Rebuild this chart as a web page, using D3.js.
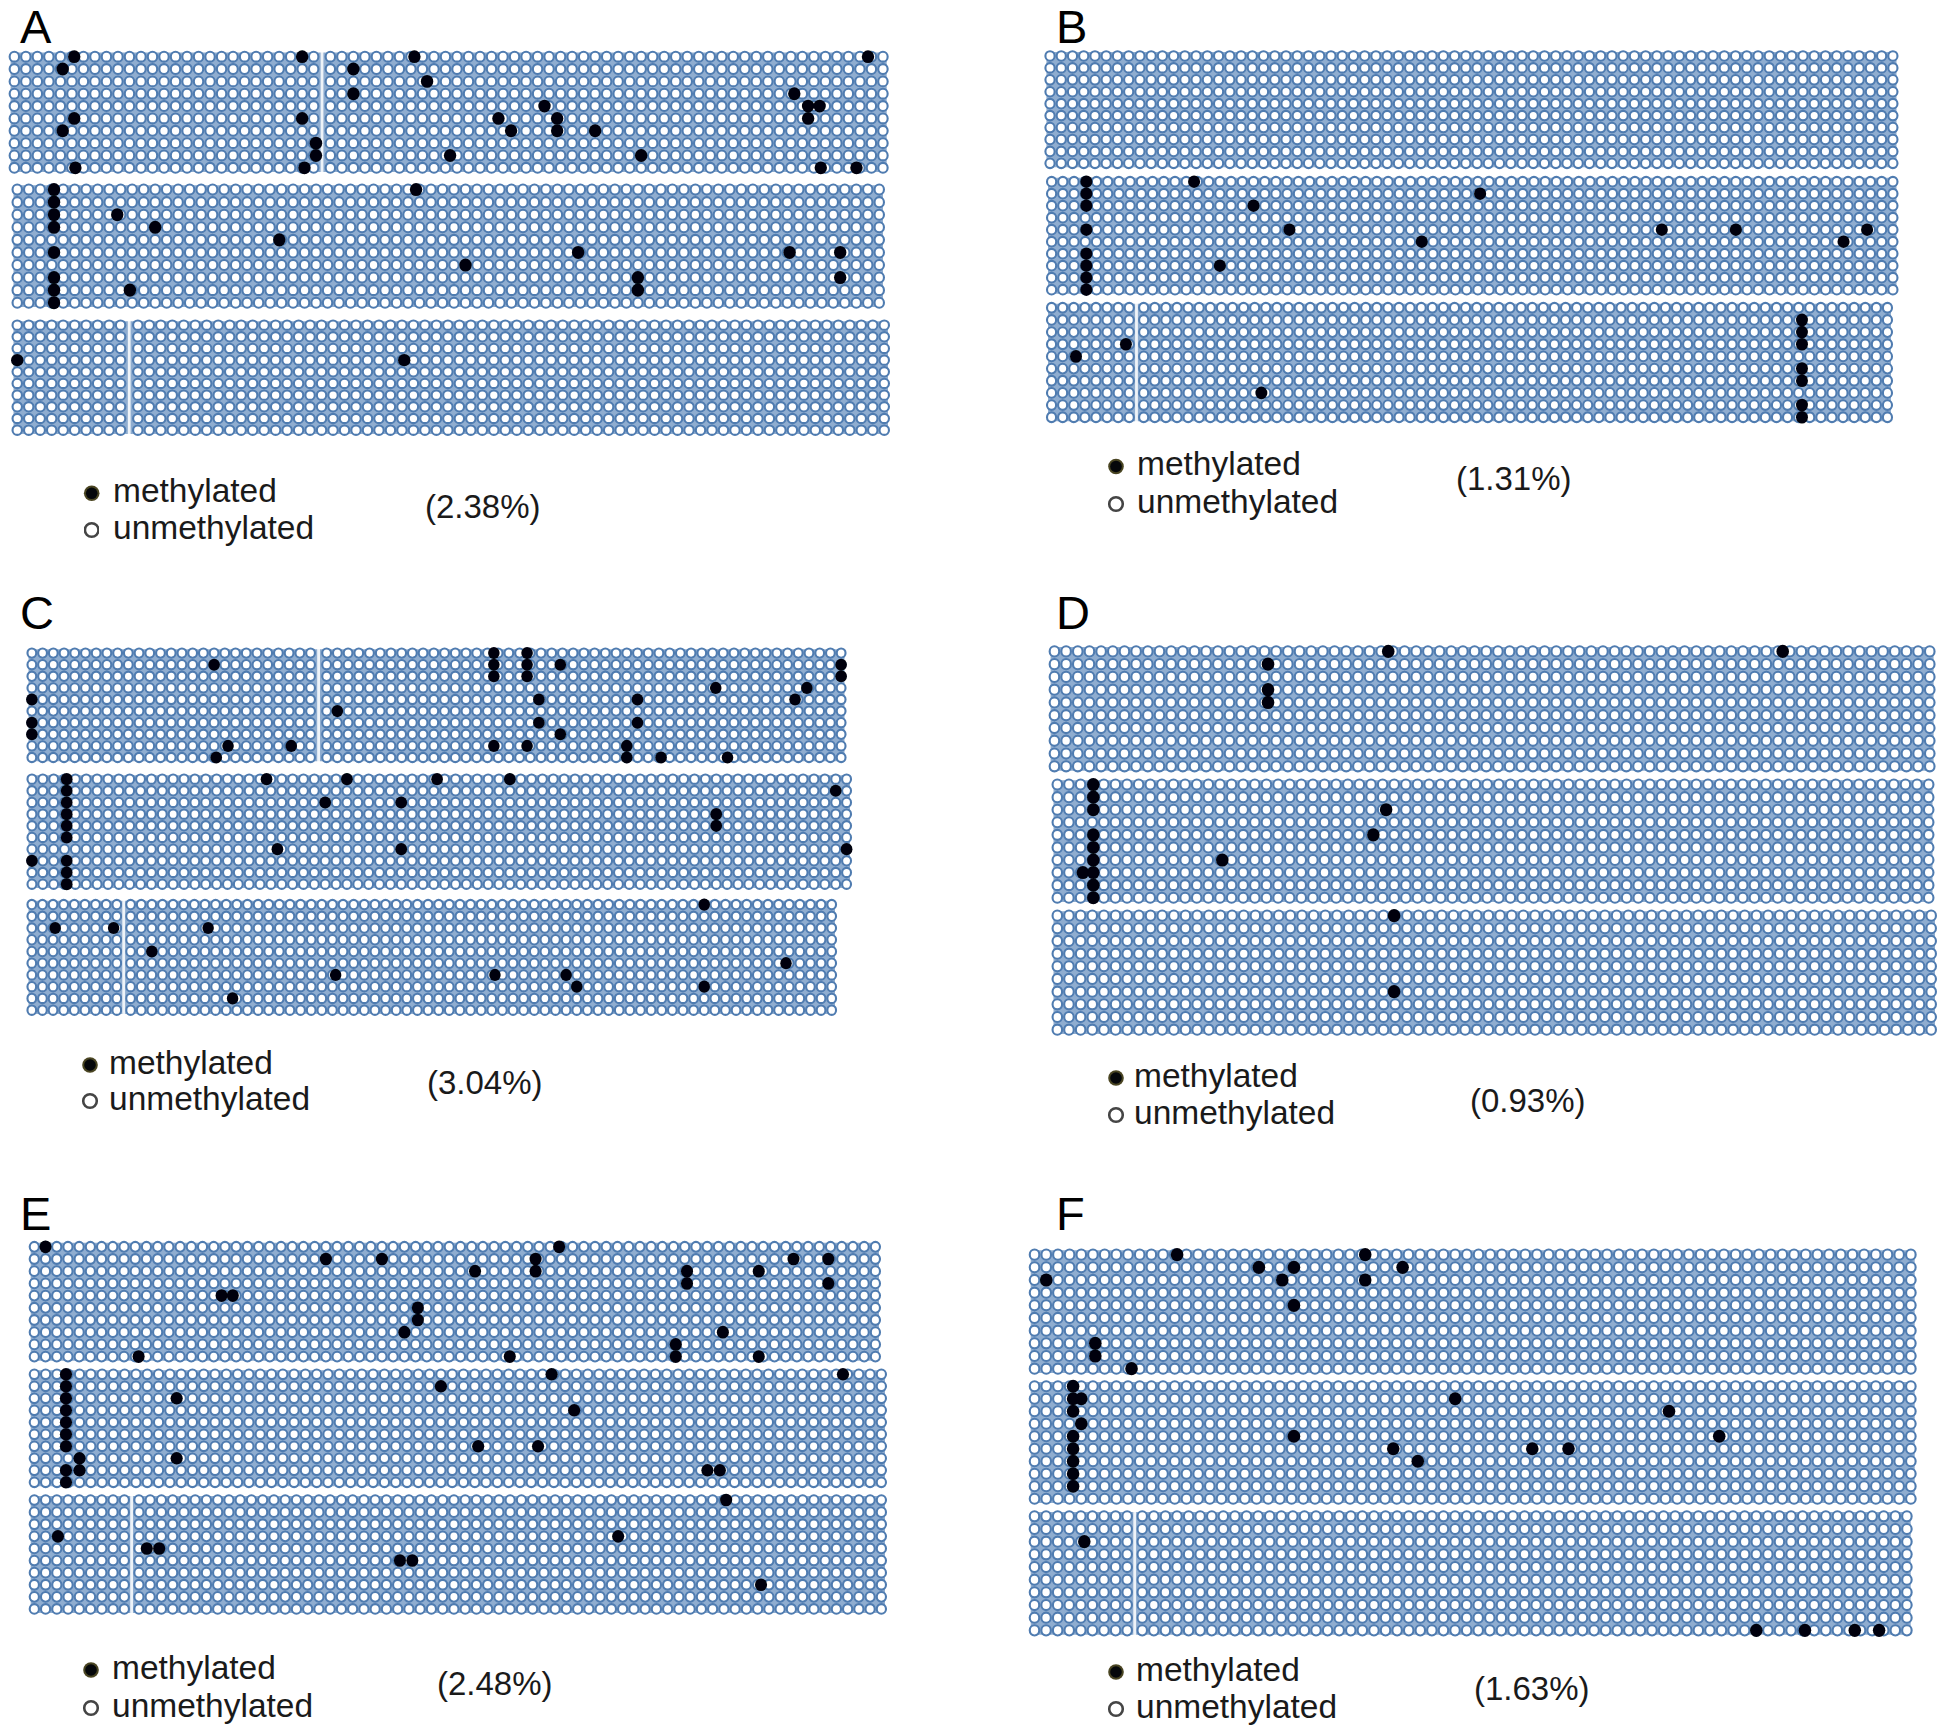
<!DOCTYPE html>
<html><head><meta charset="utf-8">
<script src="https://cdn.jsdelivr.net/npm/d3@7/dist/d3.min.js"></script>
<style>html,body{margin:0;padding:0;background:#fff}svg{display:block}text{font-family:"Liberation Sans",Arial,sans-serif;fill:#1a1a1a}</style>
</head><body><div id="chart"></div>
<script>
// Methylated sites, each array: one list of column positions per clone (row 0..9)
const panelA1=[[5.2,25,34.3,73.7],[4.2,29],[35.4],[29,67.3],[45.6,68.5,69.5],[5.2,25,41.6,46.7,68.5],[4.2,42.7,46.7,50],[26.2],[26.2,37.4,54],[5.3,25.2,69.6,72.7]];
const panelA2=[[3.2,34.7],[3.2],[3.2,8.7],[3.2,12],[22.8],[3.2,48.8,67.2,71.6],[39],[3.2,54,71.6],[3.2,9.8,54],[3.2]];
const panelA3=[[],[],[],[0,33.2],[],[],[],[],[],[]];
const panelB1=[[],[],[],[],[],[],[],[],[],[]];
const panelB2=[[3.1,12.7],[3.1,38.2],[3.1,18],[],[3.1,21.2,54.4,61,72.7],[33,70.6],[3.1],[3.1,15],[3.1],[3.1]];
const panelB3=[[],[67.3],[67.3],[6.7,67.3],[2.2],[67.3],[67.3],[18.6],[67.3],[67.3]];
const panelC1=[[42.6,45.7],[17,42.6,45.7,48.8,75],[42.6,45.7,75],[63.3,71.8],[0,46.8,56,70.7],[28],[0,46.8,56],[0,48.8],[18.3,24.2,42.6,45.7,55],[17.2,55,58.2,64.4]];
const panelC2=[[3.2,21.6,29,37.3,44],[3.2,74],[3.2,27,34],[3.2,63],[3.2,63],[3.2],[22.6,34,75],[0,3.2],[3.2],[3.2]];
const panelC3=[[63],[],[2.2,7.7,16.3],[],[11],[70.7],[28.3,43.3,50],[51,63],[18.6],[]];
const panelD1=[[28.6,62.4],[18.3],[],[18.3],[18.3],[],[],[],[],[]];
const panelD2=[[3.1],[3.1],[3.1,28.3],[],[3.1,27.2],[3.1],[3.1,14.2],[2.2,3.1],[3.1],[3.1]];
const panelD3=[[28.9],[],[],[],[],[],[28.9],[],[],[]];
const panelE1=[[1,46.8],[26,31,44.7,67.7,70.8],[39.3,44.7,58.2,64.6],[58.2,70.8],[16.7,17.7],[34.2],[34.2],[33,61.4],[57.2],[9.3,42.4,57.2,64.6]];
const panelE2=[[2.8,45.8,71.6],[2.8,36],[2.8,12.6],[2.8,47.8],[2.8],[2.8],[2.8,39.3,44.6],[4,12.6],[2.8,4,59.6,60.7],[2.8]];
const panelE3=[[61.2],[],[],[2.1,51.6],[9.7,10.8],[32.2,33.3],[],[64.3],[],[]];
const panelF1=[[12.2,28.3],[19.2,22.2,31.5],[1,21.2,28.3],[],[22.2],[],[],[5.2],[5.2],[8.3]];
const panelF2=[[3.3],[3.3,4,36],[3.3,54.3],[4],[3.3,22.2,58.6],[3.3,30.7,42.6,45.7],[3.3,32.8],[3.3],[3.3],[]];
const panelF3=[[],[],[4.3],[],[],[],[],[],[],[62,66.2,70.5,72.6]];

const panelLetters=["A","B","C","D","E","F"];
const percentLabels=["(2.38%)","(1.31%)","(3.04%)","(0.93%)","(2.48%)","(1.63%)"];
const legendNames=["methylated","unmethylated"];
const columnCount=76;
const rowCount=10;

// Layout (pixels): [rows,x0,x1,y0,y1,seamColumn,seamShift]
const blockLayout=[
 [panelA1,8.6,888.7,50.5,174,27,.45],[panelA2,11.5,885,183.3,309,0,0],[panelA3,11.5,890,319.3,436,10,.5],
 [panelB1,1044.4,1898.5,50,169.3,0,0],[panelB2,1046,1898.5,175.7,295.7,0,0],[panelB3,1046,1893,301.7,423.3,8,.3],
 [panelC1,26.5,846.5,647.3,763.3,27,.5],[panelC2,26.5,852,773.3,890,0,0],[panelC3,26.5,837,898.7,1016,9,.3],
 [panelD1,1048.6,1935.6,645,772.7,0,0],[panelD2,1051.5,1934.5,778.3,904,0,0],[panelD3,1051.5,1937,909.3,1036,0,0],
 [panelE1,28.7,881,1240.7,1362.7,0,0],[panelE2,28.7,887,1368.3,1488.3,0,0],[panelE3,28.7,887,1494,1615,9,.3],
 [panelF1,1028.7,1916.7,1248.3,1375,0,0],[panelF2,1028.7,1916.7,1380,1505,0,0],[panelF3,1028.7,1912.7,1510,1636.7,9,.3]
];
const letterPos=[[20,42.6],[1056,42.6],[20,629],[1056,629],[20,1230],[1056,1230]];
// [dotX, methDotY, unmethDotY, textX, pctX, pctBaseline]
const legendPos=[
 [91.7,493.3,530,113,425,517.5],[1116,466.5,504,1137,1456,489.5],[90,1065,1101,109,427,1094],
 [1116,1078,1115,1134,1470,1112],[91,1670,1708,112,437,1695],[1116,1672,1709,1136,1474,1700]
];

const ringColor="#4f7bb0",bandColor="#8fadd0",dotColor="#03050c";
const svg=d3.select("#chart").append("svg").attr("width",1946).attr("height",1728);
const defs=svg.append("defs");
defs.append("filter").attr("id","soft").attr("x","-2%").attr("y","-2%").attr("width","104%").attr("height","104%")
  .append("feGaussianBlur").attr("stdDeviation",.6);
const rowIdx=d3.range(rowCount),colIdx=d3.range(columnCount);

blockLayout.forEach(([rows,x0,x1,y0,y1,seam,shift])=>{
  const g=svg.append("g").attr("filter","url(#soft)");
  const x=d3.scaleLinear().domain([0,columnCount+shift]).range([x0,x1]);
  const y=d3.scaleBand().domain(rowIdx).range([y0,y1]);
  const cx=c=>x(c+.5+(seam&&c>=seam?shift:0));
  const pitchX=x(1)-x(0),pitchY=y.bandwidth();
  g.append("rect").attr("x",x0+2).attr("y",y0+2).attr("width",x1-x0-4).attr("height",y1-y0-4)
    .attr("rx",5).attr("fill",bandColor);
  const cells=rowIdx.flatMap(r=>colIdx.map(c=>({r,c})));
  g.selectAll("ellipse.ring").data(cells).join("ellipse").attr("class","ring")
    .attr("cx",d=>cx(d.c)).attr("cy",d=>y(d.r)+pitchY/2)
    .attr("rx",pitchX*.41).attr("ry",pitchY*.4)
    .attr("fill","#fff").attr("stroke",ringColor).attr("stroke-width",2.1);
  if(seam) g.append("rect").attr("x",x(seam+shift/2)-1.4).attr("y",y0).attr("width",2.8).attr("height",y1-y0).attr("fill","#fff").attr("opacity",.85);
  const dots=rows.flatMap((cols,r)=>cols.map(c=>({r,c})));
  g.selectAll("ellipse.dot").data(dots).join("ellipse").attr("class","dot")
    .attr("cx",d=>cx(d.c)).attr("cy",d=>y(d.r)+pitchY/2)
    .attr("rx",pitchX*.54).attr("ry",pitchY*.52).attr("fill",dotColor);
});

panelLetters.forEach((t,i)=>{
  svg.append("text").attr("x",letterPos[i][0]).attr("y",letterPos[i][1])
    .attr("font-size",47).style("fill","#000").text(t);
  const [dx,my,uy,tx,px,pb]=legendPos[i];
  svg.append("circle").attr("cx",dx).attr("cy",my).attr("r",7.8).attr("fill","#4a4420").attr("filter","url(#soft)");
  svg.append("circle").attr("cx",dx).attr("cy",my).attr("r",5.8).attr("fill","#05070a");
  svg.append("circle").attr("cx",dx).attr("cy",uy).attr("r",6.8).attr("fill","#fff").attr("stroke","#444").attr("stroke-width",2.6).attr("filter","url(#soft)");
  [my,uy].forEach((yy,k)=>svg.append("text").attr("x",tx).attr("y",yy+8.5).attr("font-size",33.5).text(legendNames[k]));
  svg.append("text").attr("x",px).attr("y",pb).attr("font-size",33).text(percentLabels[i]);
});
</script></body></html>
